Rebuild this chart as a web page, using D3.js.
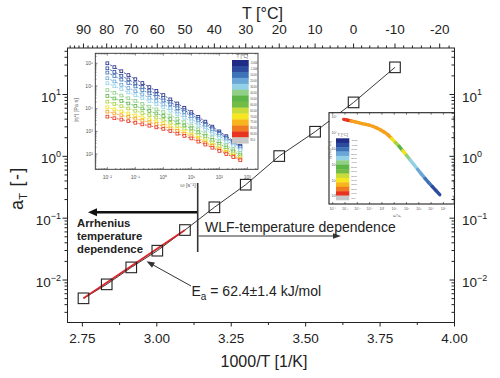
<!DOCTYPE html>
<html><head><meta charset="utf-8">
<script src="https://cdn.jsdelivr.net/npm/d3@7"></script>
<style>
html,body{margin:0;padding:0;background:#fff;}
svg{display:block;font-family:"Liberation Sans",Arial,Helvetica,sans-serif;}
</style></head><body>
<svg id="c" width="500" height="378"></svg>
<script>
// ---------------- main data ----------------
const tempC   = [90, 80, 70, 60, 50, 40, 30, 20, 10, 0, -10];
const invT    = [2.7537, 2.8317, 2.9142, 3.0017, 3.0946, 3.1934, 3.2987, 3.4112, 3.5317, 3.6610, 3.8001];
const aT      = [0.00506, 0.00851, 0.0160, 0.0298, 0.0643, 0.150, 0.348, 1.01, 2.50, 7.45, 27.5];
const fitX    = [2.7537, 3.0946];
const fitY    = [0.00506, 0.0643];
const xTicks  = [2.75, 3.00, 3.25, 3.50, 3.75, 4.00];
const xMinor  = [2.875, 3.125, 3.375, 3.625, 3.875];
const yExp    = [-2, -1, 0, 1];
const topTicks = [90, 80, 70, 60, 50, 40, 30, 20, 10, 0, -10, -20];

// ---------------- inset 1: |eta*| vs omega at several T ----------------
const insetLogW = [-2,-1.75,-1.5,-1.25,-1,-0.75,-0.5,-0.25,0,0.25,0.5,0.75,1,1.25,1.5,1.75,2,2.25,2.5,2.75];
const insetLogEta = [
 [6.00,5.83,5.65,5.48,5.30,5.13,4.95,4.78,4.60,4.41,4.23,4.04,3.85,3.64,3.43,3.21,3.00,2.79,2.58,2.37],
 [5.78,5.62,5.45,5.29,5.12,4.96,4.80,4.63,4.47,4.29,4.11,3.93,3.75,3.55,3.34,3.14,2.93,2.73,2.52,2.32],
 [5.59,5.44,5.28,5.13,4.98,4.82,4.67,4.52,4.36,4.19,4.02,3.85,3.68,3.48,3.28,3.09,2.89,2.69,2.50,2.30],
 [5.34,5.20,5.05,4.91,4.77,4.63,4.48,4.34,4.20,4.03,3.87,3.71,3.55,3.36,3.17,2.98,2.79,2.60,2.41,2.22],
 [5.12,4.99,4.86,4.72,4.59,4.46,4.33,4.20,4.06,3.91,3.75,3.60,3.44,3.26,3.08,2.90,2.71,2.53,2.35,2.17],
 [4.82,4.70,4.58,4.46,4.34,4.21,4.09,3.97,3.85,3.70,3.56,3.41,3.26,3.09,2.91,2.74,2.56,2.39,2.21,2.04],
 [4.56,4.45,4.34,4.23,4.12,4.01,3.90,3.79,3.68,3.54,3.40,3.26,3.13,2.96,2.79,2.62,2.46,2.29,2.12,1.95],
 [4.31,4.21,4.11,4.01,3.91,3.81,3.71,3.61,3.51,3.38,3.25,3.12,2.99,2.83,2.67,2.51,2.35,2.19,2.03,1.87],
 [4.06,3.97,3.88,3.79,3.70,3.62,3.53,3.44,3.35,3.23,3.11,2.99,2.86,2.71,2.56,2.41,2.25,2.10,1.95,1.80],
 [3.87,3.79,3.71,3.64,3.56,3.48,3.40,3.32,3.24,3.13,3.02,2.90,2.79,2.65,2.50,2.36,2.21,2.07,1.92,1.78],
 [3.65,3.58,3.52,3.45,3.38,3.31,3.25,3.18,3.11,3.01,2.90,2.80,2.69,2.55,2.42,2.28,2.14,2.00,1.87,1.73]
];
const curveColors = ["#1f2b84","#2c4a9e","#3f73b8","#6aa7d6","#94d0e6","#8fcf86","#5db548","#a9d23e","#f2e21e","#f6a11c","#e8341e"];
const cbarColors  = ["#1f2b84","#2c4a9e","#3f73b8","#6aa7d6","#94d0e6","#8fcf86","#5db548","#72bb45","#c8dc3a","#f5e620","#f8b41c","#f07a20","#e8341e","#c8c8c8"];
const cbarLabels  = ["-3.000","-1.000","10.00","20.00","30.00","40.00","50.00","60.00","65.00","70.00","75.00","80.00","90.00","95.0"];
const inset1XExp  = [-2,-1,0,1,2,3];
const inset1YExp  = [6,5,4,3,2];

// ---------------- inset 2: master curve ----------------
const masterLogW   = [-3.1,-2.8,-2.5,-2.2,-1.9,-1.6,-1.3,-1.0,-0.7,-0.4,-0.1,0.2,0.5,0.8,1.1,1.4,1.7,2.0,2.3,2.6,2.9,3.2,3.5,3.8,4.1,4.4,4.7];
const masterLogEta = [4.84,4.79,4.74,4.69,4.63,4.57,4.52,4.47,4.39,4.29,4.17,4.03,3.86,3.63,3.38,3.14,2.86,2.57,2.28,1.99,1.70,1.41,1.12,0.86,0.60,0.35,0.10];
const masterColor  = [10,10,9,9,9,9,9,9,9,9,9,9,9,8,7,6,8,5,4,4,3,3,2,2,1,1,0];
const inset2XExp   = [-4,-3,-2,-1,0,1,2,3,4,5];
const inset2YExp   = [5,4,3,2,1,0];

// ---------------- drawing ----------------
const svg = d3.select('#c');
const sup = {"-":"\u207B","0":"\u2070","1":"\u00B9","2":"\u00B2","3":"\u00B3","4":"\u2074","5":"\u2075","6":"\u2076","7":"\u2077","8":"\u2078","9":"\u2079"};
const supStr = e => "10" + String(e).split("").map(c=>sup[c]).join("");

const x = d3.scaleLinear().domain([2.7, 4.0]).range([67.5, 454.5]);
const y = d3.scaleLog().domain([Math.pow(10,-2.687), Math.pow(10,1.752)]).range([322.5, 48]);
const X0 = 67.5, X1 = 454.5, Y0 = 48, Y1 = 322.5;

// ===== inset 1 =====
const g1 = svg.append('g');
g1.append('rect').attr('x',69).attr('y',50).attr('width',194).attr('height',141).attr('fill','#fff');
const ix = d3.scaleLog().domain([Math.pow(10,-2.43), Math.pow(10,3.38)]).range([95.3, 258]);
const iy = d3.scaleLog().domain([Math.pow(10,1.33), Math.pow(10,6.44)]).range([169.3, 53.3]);
insetLogEta.forEach((row, i) => {
  const pts = row.map((v,k) => [ix(Math.pow(10,insetLogW[k])), iy(Math.pow(10,v))]);
  g1.append('path').attr('d', d3.line()(pts)).attr('fill','none')
    .attr('stroke', curveColors[i]).attr('stroke-width',0.8).attr('stroke-dasharray','2,1.2');
  g1.selectAll(null).data(pts).enter().append('rect')
    .attr('x',d=>d[0]-1.4).attr('y',d=>d[1]-1.4).attr('width',2.8).attr('height',2.8)
    .attr('fill','#fff').attr('stroke',curveColors[i]).attr('stroke-width',0.8);
});
g1.append('rect').attr('x',95.3).attr('y',53.3).attr('width',258-95.3).attr('height',169.3-53.3)
  .attr('fill','none').attr('stroke','#333').attr('stroke-width',0.9);
// inset1 ticks
ix.ticks().forEach(v=>{
  const maj = Math.abs(Math.log10(v)-Math.round(Math.log10(v)))<1e-9, L = maj?2.2:1.2;
  g1.append('line').attr('x1',ix(v)).attr('x2',ix(v)).attr('y1',169.3).attr('y2',169.3-L).attr('stroke','#333').attr('stroke-width',0.6);
  g1.append('line').attr('x1',ix(v)).attr('x2',ix(v)).attr('y1',53.3).attr('y2',53.3+L).attr('stroke','#333').attr('stroke-width',0.6);
});
iy.ticks().forEach(v=>{
  const maj = Math.abs(Math.log10(v)-Math.round(Math.log10(v)))<1e-9, L = maj?2.2:1.2;
  g1.append('line').attr('x1',95.3).attr('x2',95.3+L).attr('y1',iy(v)).attr('y2',iy(v)).attr('stroke','#333').attr('stroke-width',0.6);
});
inset1XExp.forEach(e=>{
  g1.append('text').attr('x',ix(Math.pow(10,e))).attr('y',178.5).attr('text-anchor','middle')
    .attr('font-size',5).attr('fill','#555').text(supStr(e));
});
inset1YExp.forEach(e=>{
  g1.append('text').attr('x',93).attr('y',iy(Math.pow(10,e))+1.8).attr('text-anchor','end')
    .attr('font-size',5).attr('fill','#555').text(supStr(e));
});
g1.append('text').attr('transform','translate(78,110) rotate(-90)').attr('text-anchor','middle')
  .attr('font-size',5.5).attr('fill','#555').text('|\u03B7*| [Pa s]');
g1.append('text').attr('x',188).attr('y',187).attr('text-anchor','middle')
  .attr('font-size',5.5).attr('fill','#555').text('\u03C9 [s\u207B\u00B9]');
// colorbar 1
const cb1 = {x:232, y:60, w:16.7, h:83.3};
const bh1 = cb1.h / cbarColors.length;
cbarColors.forEach((c,k)=>{
  g1.append('rect').attr('x',cb1.x).attr('y',cb1.y+k*bh1).attr('width',cb1.w).attr('height',bh1+0.3).attr('fill',c);
  g1.append('text').attr('x',cb1.x+cb1.w+1.5).attr('y',cb1.y+k*bh1+bh1/2+1).attr('font-size',2.6).attr('fill','#444').text(cbarLabels[k]);
});
g1.append('text').attr('x',cb1.x+cb1.w/2+2).attr('y',58).attr('text-anchor','middle').attr('font-size',4.5).attr('fill','#555').text('T [\u00B0C]');

// ===== main data =====
const main = svg.append('g');
const ptsMain = invT.map((v,i)=>[x(v), y(aT[i])]);
main.append('path').attr('d', d3.line()(ptsMain)).attr('fill','none').attr('stroke','#222').attr('stroke-width',0.9);
main.append('path').attr('d', d3.line()(fitX.map((v,i)=>[x(v), y(fitY[i])])))
  .attr('fill','none').attr('stroke','#d8262a').attr('stroke-width',1.8);
main.selectAll(null).data(ptsMain).enter().append('rect')
  .attr('x',d=>d[0]-5.3).attr('y',d=>d[1]-5.3).attr('width',10.6).attr('height',10.6)
  .attr('fill','none').attr('stroke','#222').attr('stroke-width',1.1);

// ===== inset 2 =====
const g2 = svg.append('g');
g2.append('rect').attr('x',329).attr('y',112.7).attr('width',125.5).attr('height',91.3).attr('fill','#fff');
const jx = d3.scaleLog().domain([Math.pow(10,-4.3), Math.pow(10,5.9)]).range([329, 454.5]);
const jy = d3.scaleLog().domain([Math.pow(10,-0.49), Math.pow(10,5.26)]).range([204, 112.7]);
const mPts = masterLogW.map((w,k)=>[jx(Math.pow(10,w)), jy(Math.pow(10,masterLogEta[k]))]);
for (let k=0;k<mPts.length-1;k++){
  g2.append('line').attr('x1',mPts[k][0]).attr('y1',mPts[k][1]).attr('x2',mPts[k+1][0]).attr('y2',mPts[k+1][1])
    .attr('stroke',curveColors[masterColor[k]]).attr('stroke-width',3.4).attr('stroke-linecap','round');
}
g2.append('rect').attr('x',329).attr('y',112.7).attr('width',125.5).attr('height',91.3)
  .attr('fill','none').attr('stroke','#222').attr('stroke-width',1.1);
jx.ticks().forEach(v=>{
  const maj = Math.abs(Math.log10(v)-Math.round(Math.log10(v)))<1e-9, L = maj?2:1.1;
  g2.append('line').attr('x1',jx(v)).attr('x2',jx(v)).attr('y1',204).attr('y2',204-L).attr('stroke','#222').attr('stroke-width',0.6);
  g2.append('line').attr('x1',jx(v)).attr('x2',jx(v)).attr('y1',112.7).attr('y2',112.7+L).attr('stroke','#222').attr('stroke-width',0.6);
});
jy.ticks().forEach(v=>{
  const maj = Math.abs(Math.log10(v)-Math.round(Math.log10(v)))<1e-9, L = maj?2:1.1;
  g2.append('line').attr('x1',454.5).attr('x2',454.5-L).attr('y1',jy(v)).attr('y2',jy(v)).attr('stroke','#222').attr('stroke-width',0.6);
});
inset2XExp.forEach(e=>{
  g2.append('text').attr('x',jx(Math.pow(10,e))).attr('y',209.5).attr('text-anchor','middle')
    .attr('font-size',3.6).attr('fill','#555').text(supStr(e));
});
inset2YExp.forEach(e=>{
  g2.append('text').attr('x',331.5).attr('y',jy(Math.pow(10,e))+1.2)
    .attr('font-size',3.6).attr('fill','#555').text(supStr(e));
});
g2.append('text').attr('transform','translate(330.8,150) rotate(-90)').attr('text-anchor','middle')
  .attr('font-size',3.4).attr('fill','#555').text('|\u03B7*|/a\u209C [Pa s]');
g2.append('text').attr('x',397).attr('y',217).attr('text-anchor','middle')
  .attr('font-size',4).attr('fill','#555').text('\u03C9*a\u209C');
const cb2 = {x:336, y:138.3, w:13.3, h:61.7};
const bh2 = cb2.h / cbarColors.length;
cbarColors.forEach((c,k)=>{
  g2.append('rect').attr('x',cb2.x).attr('y',cb2.y+k*bh2).attr('width',cb2.w).attr('height',bh2+0.3).attr('fill',c);
  g2.append('text').attr('x',cb2.x+cb2.w+2).attr('y',cb2.y+k*bh2+bh2/2+0.8).attr('font-size',2.2).attr('fill','#444').text(cbarLabels[k]);
});
g2.append('text').attr('x',cb2.x+cb2.w/2).attr('y',136).attr('text-anchor','middle').attr('font-size',4).attr('fill','#555').text('T [\u00B0C]');

// ===== annotations =====
const ann = svg.append('g');
function arrow(x1,y1,x2,y2,w,hl,hw,col){
  const dx=x2-x1, dy=y2-y1, L=Math.hypot(dx,dy), ux=dx/L, uy=dy/L;
  const bx=x2-ux*hl, by=y2-uy*hl;
  ann.append('line').attr('x1',x1).attr('y1',y1).attr('x2',bx+ux*1).attr('y2',by+uy*1).attr('stroke',col).attr('stroke-width',w);
  ann.append('path').attr('d',`M${x2},${y2}L${bx-uy*hw},${by+ux*hw}L${bx+uy*hw},${by-ux*hw}Z`).attr('fill',col);
}
ann.append('line').attr('x1',197.7).attr('x2',197.7).attr('y1',183).attr('y2',252).attr('stroke','#333').attr('stroke-width',1.6);
arrow(197, 212.3, 88, 212.3, 2.4, 9, 4, '#111');
arrow(198.5, 236, 341, 236, 1, 8, 2.8, '#333');
arrow(191, 286, 146.5, 261.3, 1, 8, 3, '#333');

const ar = ann.append('text').attr('font-size',11.5).attr('font-weight','bold').attr('fill','#222');
[['Arrhenius',227],['temperature',240.3],['dependence',253.3]].forEach(d=>{
  ann.append('text').attr('x',77).attr('y',d[1]).attr('font-size',11.3).attr('font-weight','bold').attr('fill','#222').text(d[0]);
});
ann.append('text').attr('x',205).attr('y',232).attr('font-size',14).attr('fill','#222').text('WLF-temperature dependence');
const ea = ann.append('text').attr('x',191.5).attr('y',296).attr('font-size',14).attr('fill','#222');
ea.append('tspan').text('E');
ea.append('tspan').attr('dy',4).attr('font-size',10).text('a');
ea.append('tspan').attr('dy',-4).text(' = 62.4\u00B11.4 kJ/mol');

// ===== axes =====
const ax = svg.append('g').attr('stroke','#222').attr('stroke-width',1);
ax.append('rect').attr('x',X0).attr('y',Y0).attr('width',X1-X0).attr('height',Y1-Y0).attr('fill','none');
// bottom
xTicks.forEach(v=>{
  ax.append('line').attr('x1',x(v)).attr('x2',x(v)).attr('y1',Y1).attr('y2',Y1+4);
  svg.append('text').attr('x',x(v)).attr('y',342.5).attr('text-anchor','middle').attr('font-size',13.5).attr('fill','#222').text(v.toFixed(2));
});
xMinor.forEach(v=>{ ax.append('line').attr('x1',x(v)).attr('x2',x(v)).attr('y1',Y1).attr('y2',Y1+2.5); });
// top (T in °C)
d3.range(-24, 97, 2).forEach(t=>{
  const xv = 1000/(t+273.15); if (xv < 2.7 || xv > 4.0) return;
  const maj = t % 10 === 0;
  ax.append('line').attr('x1',x(xv)).attr('x2',x(xv)).attr('y1',Y0).attr('y2',Y0-(maj?4.5:2.5));
});
topTicks.forEach(t=>{
  svg.append('text').attr('x',x(1000/(t+273.15))).attr('y',34.2).attr('text-anchor','middle').attr('font-size',13.5).attr('fill','#222').text(String(t));
});
// left / right log ticks
y.ticks().forEach(v=>{
  const maj = Math.abs(Math.log10(v)-Math.round(Math.log10(v)))<1e-9;
  ax.append('line').attr('x1',X0).attr('x2',X0-(maj?5:3)).attr('y1',y(v)).attr('y2',y(v));
  ax.append('line').attr('x1',X1).attr('x2',X1-(maj?5:3)).attr('y1',y(v)).attr('y2',y(v));
});
yExp.forEach(e=>{
  const yy = y(Math.pow(10,e));
  [[61,'end'],[462,'start']].forEach(([xx,anc])=>{
    const t = svg.append('text').attr('x',xx).attr('y',yy+7).attr('text-anchor',anc).attr('font-size',13.5).attr('fill','#222');
    t.append('tspan').text('10');
    t.append('tspan').attr('dy',-6.5).attr('font-size',9).text(e<0?'\u2212'+(-e):String(e));
  });
});
// titles
svg.append('text').attr('x',262.5).attr('y',18.5).attr('text-anchor','middle').attr('font-size',16).attr('fill','#222').text('T [\u00B0C]');
svg.append('text').attr('x',264).attr('y',367).attr('text-anchor','middle').attr('font-size',16).attr('fill','#222').text('1000/T [1/K]');
const yt = svg.append('text').attr('transform','translate(23,188) rotate(-90)').attr('text-anchor','middle').attr('font-size',18).attr('fill','#222');
yt.append('tspan').text('a');
yt.append('tspan').attr('dy',4).attr('font-size',11).text('T');
yt.append('tspan').attr('dy',-4).attr('letter-spacing',1.5).text(' [-]');
</script>
</body></html>
